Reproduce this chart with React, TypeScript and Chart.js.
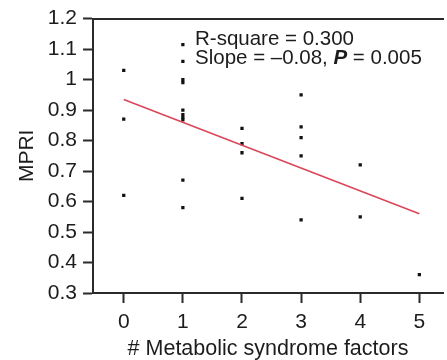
import React, { useEffect, useRef } from "react";
import { Chart, registerables } from "chart.js";

Chart.register(...registerables);

const factorCounts = [0, 0, 0, 1, 1, 1, 1, 1, 1, 1, 1, 1, 1, 2, 2, 2, 2, 3, 3, 3, 3, 3, 4, 4, 5];
const mpriValues = [1.03, 0.87, 0.62, 1.115, 1.06, 1.0, 0.99, 0.9, 0.885, 0.875, 0.868, 0.67, 0.58, 0.84, 0.79, 0.76, 0.61, 0.95, 0.845, 0.81, 0.75, 0.54, 0.72, 0.55, 0.36];

const fitX = [0, 5];
const fitY = [0.935, 0.56];

const xTicks = [0, 1, 2, 3, 4, 5];
const yTicks = [1.2, 1.1, 1.0, 0.9, 0.8, 0.7, 0.6, 0.5, 0.4, 0.3];
const yTickLabels = ["1.2", "1.1", "1", "0.9", "0.8", "0.7", "0.6", "0.5", "0.4", "0.3"];

const statLine1 = "R-square = 0.300";
const statLine2a = "Slope = \u20130.08, ";
const statLine2P = "P";
const statLine2b = " = 0.005";

const FONT = '"Liberation Sans", Arial, sans-serif';
const AXIS = "#2a2a2a";
const TEXT = "#1c1c1c";

const annotationPlugin = {
  id: "statsText",
  afterDraw(chart: any) {
    const { ctx, chartArea } = chart;
    ctx.save();
    ctx.fillStyle = TEXT;
    ctx.textBaseline = "alphabetic";
    ctx.textAlign = "left";
    const x0 = chartArea.left + 102;
    ctx.font = `20.5px ${FONT}`;
    ctx.fillText(statLine1, x0, chartArea.top + 26.5);
    const y2 = chartArea.top + 45;
    ctx.fillText(statLine2a, x0, y2);
    let x = x0 + ctx.measureText(statLine2a).width;
    ctx.font = `italic bold 20.5px ${FONT}`;
    ctx.fillText(statLine2P, x, y2);
    x += ctx.measureText(statLine2P).width;
    ctx.font = `20.5px ${FONT}`;
    ctx.fillText(statLine2b, x, y2);
    ctx.restore();
  },
};

export default function App() {
  const ref = useRef<HTMLCanvasElement | null>(null);

  useEffect(() => {
    if (!ref.current) return;
    const points = factorCounts.map((x, i) => ({ x, y: mpriValues[i] }));
    const fit = fitX.map((x, i) => ({ x, y: fitY[i] }));
    const chart = new Chart(ref.current, {
      type: "scatter",
      data: {
        datasets: [
          {
            type: "line",
            data: fit,
            borderColor: "#dc4659",
            borderWidth: 1.6,
            pointRadius: 0,
            fill: false,
          } as any,
          {
            type: "scatter",
            data: points,
            pointStyle: "rect",
            pointRadius: 2.3,
            backgroundColor: "#111111",
            borderWidth: 0,
          } as any,
        ],
      },
      options: {
        responsive: false,
        animation: false,
        layout: { padding: 0 },
        plugins: {
          legend: { display: false },
          tooltip: { enabled: false },
        },
        scales: {
          x: {
            type: "linear",
            position: "bottom",
            min: -0.52,
            max: 5.4,
            afterBuildTicks: (s: any) => {
              s.ticks = xTicks.map((v) => ({ value: v }));
            },
            afterFit: (s: any) => {
              s.height = 67;
            },
            ticks: {
              color: TEXT,
              font: { family: FONT, size: 21 },
              padding: 7,
              callback: (v: any) => String(v),
            },
            grid: {
              drawOnChartArea: false,
              drawTicks: true,
              tickLength: 10,
              tickWidth: 2,
              tickColor: AXIS,
              color: AXIS,
            },
            border: { display: true, color: AXIS, width: 2 },
            title: {
              display: true,
              text: "# Metabolic syndrome factors",
              color: TEXT,
              font: { family: FONT, size: 21.5, lineHeight: 1 },
              padding: { top: 0, bottom: 0 },
            },
          },
          x2: {
            type: "linear",
            position: "top",
            min: -0.52,
            max: 5.4,
            afterFit: (s: any) => {
              s.height = 17;
            },
            ticks: { display: false },
            grid: { display: false },
            border: { display: true, color: AXIS, width: 2 },
          },
          y: {
            type: "linear",
            position: "left",
            min: 0.3,
            max: 1.2,
            afterBuildTicks: (s: any) => {
              s.ticks = yTicks.map((v) => ({ value: v }));
            },
            afterFit: (s: any) => {
              s.width = 93;
            },
            ticks: {
              color: TEXT,
              font: { family: FONT, size: 21 },
              padding: 6,
              callback: (v: any) => {
                const i = yTicks.findIndex((t) => Math.abs(t - v) < 1e-6);
                return i >= 0 ? yTickLabels[i] : "";
              },
            },
            grid: {
              drawOnChartArea: false,
              drawTicks: true,
              tickLength: 10,
              tickWidth: 2,
              tickColor: AXIS,
              color: AXIS,
            },
            border: { display: true, color: AXIS, width: 2 },
            title: {
              display: true,
              text: "MPRI",
              color: TEXT,
              font: { family: FONT, size: 21, lineHeight: 1 },
              padding: { top: 17, bottom: 0 },
            },
          },
        },
      } as any,
      plugins: [annotationPlugin],
    });
    return () => chart.destroy();
  }, []);

  return (
    <div style={{ position: "absolute", left: 0, top: 0, width: 447, height: 360, background: "#fff" }}>
      <canvas ref={ref} width={447} height={360} style={{ display: "block" }} />
    </div>
  );
}
